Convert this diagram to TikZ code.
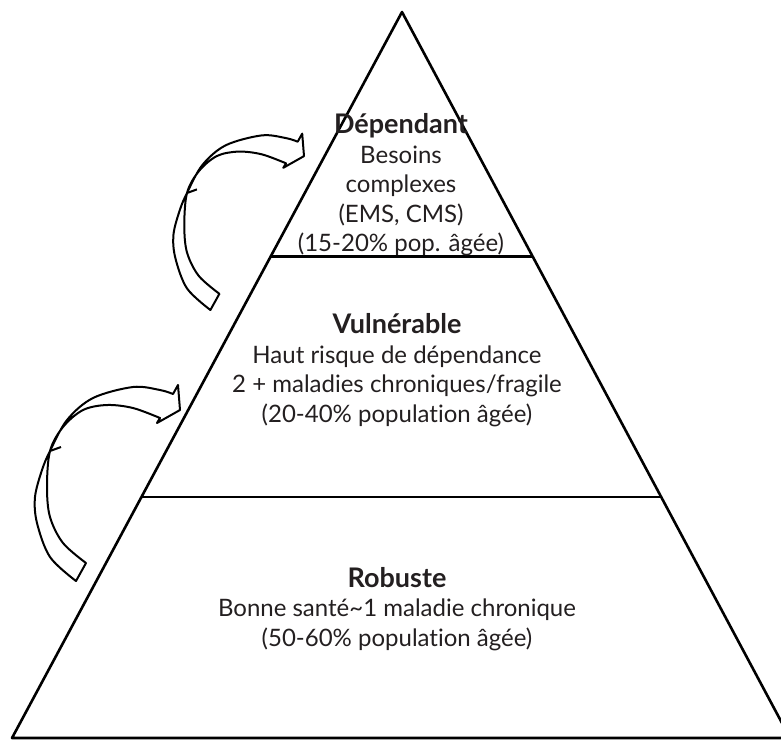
\documentclass[tikz,border=0pt]{standalone}
\usepackage{fontspec}
\setmainfont{Lato}[Ligatures=NoCommon]
\usepackage{xcolor}
\usetikzlibrary{calc}

\definecolor{ink}{HTML}{231F20}
\newcommand{\tiertitle}[1]{{\fontsize{13.5pt}{14.75pt}\selectfont\bfseries #1}}

\tikzset{
    loop arrow/.pic={
        \draw[band] plot[smooth, tension=0.55] coordinates {(26,130) (0,106) (-13,72) (-15,46) (-8,19) (0,0) (17,-31) (43,-53) (83,-64) (110,-61) (123,-57)}
            -- (128,-66) -- (130,-41) -- (107,-28) -- (110,-33)
            -- plot[smooth, tension=0.55] coordinates {(110,-33) (83,-43) (57,-46) (33,-41) (13,-24) (0,0) (-3,36) (0,66) (13,92) (36,112)}
            -- cycle;
        \draw[band] (0,0) -- (11,-4);
    }
}

\begin{document}
\begin{tikzpicture}[
    x=0.5pt, y=-0.5pt,
    tier/.style={align=center, text=ink, inner sep=0pt, font=\fontsize{12pt}{14.75pt}\selectfont},
    edge/.style={line width=1.3pt, line join=round},
    band/.style={line width=1pt, fill=white, line join=round}
]
    \useasboundingbox (0,0) rectangle (781,740);

    % Pyramid outline
    \coordinate (apex) at (402,12);
    \coordinate (bl) at (12,738);
    \coordinate (br) at (790,738);
    \draw[edge] (bl) -- (apex) -- (br) -- cycle;

    % Tier boundaries
    \coordinate (l1) at ($(apex)!0.337!(bl)$);
    \coordinate (r1) at ($(apex)!0.337!(br)$);
    \coordinate (l2) at ($(apex)!0.668!(bl)$);
    \coordinate (r2) at ($(apex)!0.668!(br)$);
    \draw[edge] (l1) -- (r1);
    \draw[edge] (l2) -- (r2);

    % Tier texts
    \node[tier] (dep) at (401,185) {\tiertitle{Dépendant}\\Besoins\\complexes\\(EMS, CMS)\\(15-20\% pop. âgée)};
    \node[tier] (vul) at (397,370) {\tiertitle{Vulnérable}\\Haut risque de dépendance\\2 + maladies chroniques/fragile\\(20-40\% population âgée)};
    \node[tier] (rob) at (397,609) {\tiertitle{Robuste}\\Bonne santé\textasciitilde 1 maladie chronique\\(50-60\% population âgée)};

    % Transition arrows
    \pic at (50,451) {loop arrow};
    \pic[scale=0.9] at (187,193) {loop arrow};
\end{tikzpicture}
\end{document}
